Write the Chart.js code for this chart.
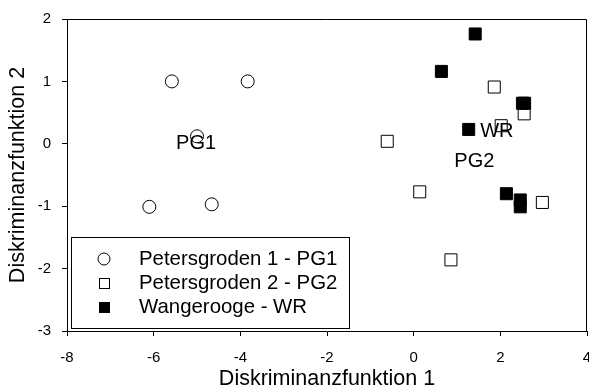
<!DOCTYPE html>
<html>
<head>
<meta charset="utf-8">
<script src="https://cdn.jsdelivr.net/npm/chart.js@4.4.1/dist/chart.umd.min.js"></script>
<style>
  html, body { margin: 0; padding: 0; background: #fff; }
  #wrap { width: 589px; height: 390px; }
</style>
</head>
<body>
<div id="wrap"><canvas id="c" width="589" height="390"></canvas></div>
<script>
const FONT = '"Liberation Sans", Arial, Helvetica, sans-serif';

// Discriminant scores per site
const pg1X = [-5.58, -3.83, -5.00, -6.10, -4.66];
const pg1Y = [ 1.00,  1.00,  0.12, -1.01, -0.97];

const pg2X = [1.86, 2.55, 2.02, -0.61,  0.14,  2.97,  0.86];
const pg2Y = [0.91, 0.48, 0.29,  0.04, -0.77, -0.94, -1.86];

const wrX = [1.42, 0.64, 2.51, 2.56, 1.27,  2.14,  2.46,  2.46];
const wrY = [1.76, 1.16, 0.65, 0.65, 0.23, -0.80, -0.90, -1.01];

// Group labels placed at their group centres
const groupNames = ['PG1', 'WR', 'PG2'];
const groupX = [-5.02, 1.92, 1.40];
const groupY = [ 0.00, 0.20, -0.28];

// Axis ticks
const xTicks = [-8, -6, -4, -2, 0, 2, 4];
const yTicks = [-3, -2, -1, 0, 1, 2];

const seriesNames = ['Petersgroden 1 - PG1', 'Petersgroden 2 - PG2', 'Wangerooge - WR'];

const toPoints = (xs, ys) => xs.map((x, i) => ({ x: x, y: ys[i] }));

// Closes the plot box on the top and right sides
const framePlugin = {
  id: 'frame',
  beforeDatasetsDraw(chart) {
    const { ctx, chartArea: a } = chart;
    ctx.save();
    ctx.strokeStyle = '#000';
    ctx.lineWidth = 1;
    ctx.beginPath();
    ctx.moveTo(a.left, a.top + 0.5);
    ctx.lineTo(a.right - 0.5, a.top + 0.5);
    ctx.lineTo(a.right - 0.5, a.bottom);
    ctx.stroke();
    ctx.restore();
  }
};

// Group name labels at data coordinates
const groupLabelPlugin = {
  id: 'groupLabels',
  afterDatasetsDraw(chart) {
    const { ctx, scales } = chart;
    ctx.save();
    ctx.fillStyle = '#000';
    ctx.font = '20px ' + FONT;
    ctx.textAlign = 'center';
    ctx.textBaseline = 'middle';
    groupNames.forEach((name, i) => {
      ctx.fillText(name, scales.x.getPixelForValue(groupX[i]), scales.y.getPixelForValue(groupY[i]));
    });
    ctx.restore();
  }
};

// Boxed legend in the lower-left corner of the plot
const boxLegendPlugin = {
  id: 'boxLegend',
  afterDraw(chart) {
    const { ctx, chartArea: a } = chart;
    const left = a.left + 4, top = a.bottom - 94, w = 278, h = 91;
    ctx.save();
    ctx.fillStyle = '#fff';
    ctx.fillRect(left, top, w, h);
    ctx.strokeStyle = '#000';
    ctx.lineWidth = 1;
    ctx.strokeRect(left + 0.5, top + 0.5, w, h);

    const mx = left + 33, tx = left + 68;
    const rows = [top + 22, top + 46, top + 70];
    // circle
    ctx.beginPath();
    ctx.arc(mx, rows[0], 6, 0, Math.PI * 2);
    ctx.stroke();
    // open square
    ctx.strokeRect(mx - 4.5, rows[1] - 4.5, 10, 10);
    // filled square
    ctx.fillStyle = '#000';
    ctx.fillRect(mx - 5, rows[2] - 5, 11, 11);

    ctx.font = '20.4px ' + FONT;
    ctx.textAlign = 'left';
    ctx.textBaseline = 'middle';
    seriesNames.forEach((n, i) => ctx.fillText(n, tx, rows[i]));
    ctx.restore();
  }
};

const common = {
  borderColor: '#000',
  borderWidth: 1,
  showLine: false
};

new Chart(document.getElementById('c').getContext('2d'), {
  type: 'scatter',
  data: {
    datasets: [
      Object.assign({}, common, {
        label: seriesNames[0], data: toPoints(pg1X, pg1Y),
        pointStyle: 'circle', pointRadius: 6.5, pointHoverRadius: 6.5,
        backgroundColor: 'rgba(0,0,0,0)'
      }),
      Object.assign({}, common, {
        label: seriesNames[1], data: toPoints(pg2X, pg2Y),
        pointStyle: 'rect', pointRadius: 8.5, pointHoverRadius: 8.5,
        backgroundColor: 'rgba(0,0,0,0)'
      }),
      Object.assign({}, common, {
        label: seriesNames[2], data: toPoints(wrX, wrY),
        pointStyle: 'rect', pointRadius: 8.5, pointHoverRadius: 8.5,
        backgroundColor: '#000'
      })
    ]
  },
  options: {
    responsive: false,
    animation: false,
    events: [],
    layout: { autoPadding: false, padding: { top: 19, right: 2, left: 0, bottom: 0 } },
    plugins: { legend: { display: false }, tooltip: { enabled: false } },
    scales: {
      x: {
        type: 'linear',
        min: -8, max: 4,
        afterBuildTicks: s => { s.ticks = xTicks.map(v => ({ value: v })); },
        afterFit: s => { s.height = 59; s.paddingLeft = 0; s.paddingRight = 0; },
        ticks: { font: { family: FONT, size: 15 }, color: '#000', padding: 13, maxRotation: 0, autoSkip: false },
        grid: { drawOnChartArea: false, drawTicks: true, tickLength: 5, tickColor: '#000', tickWidth: 1 },
        border: { display: true, color: '#000', width: 1 },
        title: { display: true, text: 'Diskriminanzfunktion 1', color: '#000',
                 font: { family: FONT, size: 21.5, lineHeight: 1 }, padding: 0 }
      },
      y: {
        type: 'linear',
        min: -3, max: 2,
        afterBuildTicks: s => { s.ticks = yTicks.map(v => ({ value: v })); },
        afterFit: s => { s.width = 67; s.paddingTop = 0; s.paddingBottom = 0; },
        ticks: { font: { family: FONT, size: 15 }, color: '#000', padding: 11, autoSkip: false },
        grid: { drawOnChartArea: false, drawTicks: true, tickLength: 5, tickColor: '#000', tickWidth: 1 },
        border: { display: true, color: '#000', width: 1 },
        title: { display: true, text: 'Diskriminanzfunktion 2', color: '#000',
                 font: { family: FONT, size: 21.5, lineHeight: 1 }, padding: { top: 7, bottom: 0 } }
      }
    }
  },
  plugins: [framePlugin, groupLabelPlugin, boxLegendPlugin]
});
</script>
</body>
</html>
